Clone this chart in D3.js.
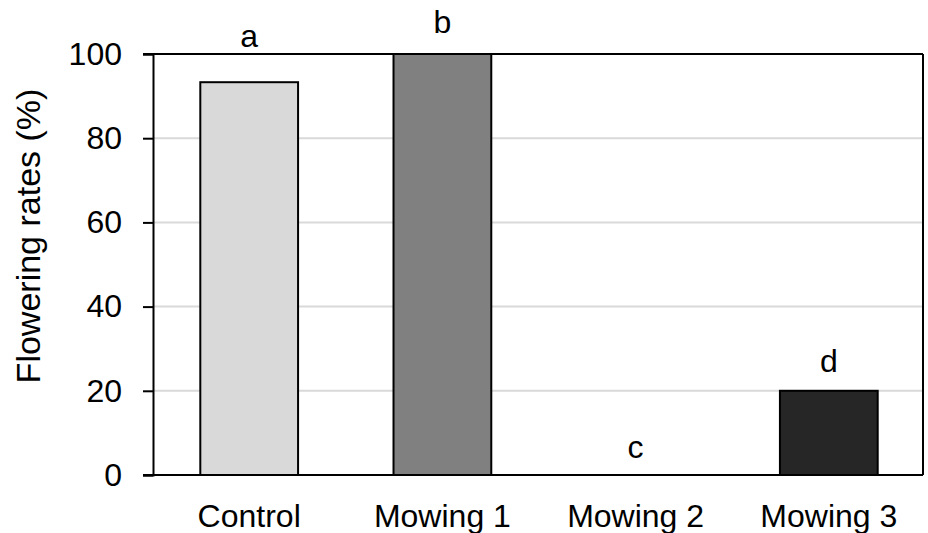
<!DOCTYPE html>
<html><head><meta charset="utf-8">
<script src="https://cdn.jsdelivr.net/npm/d3@7"></script>
<style>body{margin:0;background:#fff}svg{display:block}text{font-family:Arial,"Liberation Sans",sans-serif;fill:#000}</style>
</head><body><svg id="c" width="928" height="533"></svg>
<script>
const categories = ["Control", "Mowing 1", "Mowing 2", "Mowing 3"];
const values = [93.3, 100, 0, 20];
const letters = ["a", "b", "c", "d"];
const letterPos = [101.7, 105, 4, 24.5];
const colors = ["#d9d9d9", "#808080", "#ffffff", "#262626"];
const yTicks = [0, 20, 40, 60, 80, 100];
const yTitle = "Flowering rates (%)";

const svg = d3.select("#c");
const L = 153, R = 923, T = 54, B = 475;
const x = d3.scaleBand().domain(categories).range([152, 926]).paddingInner(0.494).paddingOuter(0.25);
const y = d3.scaleLinear().domain([0, 100]).range([B, T]);
const fs = 32;

// gridlines
svg.append("g").selectAll("line").data(yTicks.filter(d => d > 0 && d < 100)).join("line")
  .attr("x1", L).attr("x2", R).attr("y1", d => y(d)).attr("y2", d => y(d))
  .attr("stroke", "#d9d9d9").attr("stroke-width", 2);

// bars
const data = categories.map((c, i) => ({c, v: values[i], col: colors[i], l: letters[i], lp: letterPos[i]}));
svg.append("g").selectAll("rect").data(data.filter(d => d.v > 0)).join("rect")
  .attr("x", d => x(d.c)).attr("width", x.bandwidth())
  .attr("y", d => y(d.v)).attr("height", d => y(0) - y(d.v))
  .attr("fill", d => d.col).attr("stroke", "#000").attr("stroke-width", 2);

// frame top & right
svg.append("line").attr("x1", L - 10).attr("x2", R).attr("y1", T).attr("y2", T).attr("stroke", "#000").attr("stroke-width", 2);
svg.append("line").attr("x1", R).attr("x2", R).attr("y1", T).attr("y2", B).attr("stroke", "#000").attr("stroke-width", 2);

// y axis
const ya = svg.append("g").attr("transform", `translate(${L},0)`)
  .call(d3.axisLeft(y).tickValues(yTicks).tickSize(10).tickPadding(21).tickFormat(d3.format("d")));
ya.select(".domain").attr("stroke", "#000").attr("stroke-width", 2);
ya.selectAll(".tick line").attr("stroke", "#000").attr("stroke-width", 2);
ya.selectAll(".tick text").attr("font-size", fs).attr("font-family", "Arial, 'Liberation Sans', sans-serif").attr("fill", "#000");

// x axis baseline
svg.append("line").attr("x1", L - 10).attr("x2", R).attr("y1", B).attr("y2", B).attr("stroke", "#000").attr("stroke-width", 2);

// x labels
svg.append("g").selectAll("text").data(categories).join("text")
  .attr("x", d => x(d) + x.bandwidth() / 2).attr("y", 527)
  .attr("text-anchor", "middle").attr("font-size", fs).text(d => d);

// letters
svg.append("g").selectAll("text").data(data).join("text")
  .attr("x", d => x(d.c) + x.bandwidth() / 2).attr("y", d => y(d.lp))
  .attr("text-anchor", "middle").attr("font-size", fs).text(d => d.l);

// y title
svg.append("text").attr("transform", `translate(40,236) rotate(-90)`)
  .attr("text-anchor", "middle").attr("font-size", 34).text(yTitle);
</script></body></html>
